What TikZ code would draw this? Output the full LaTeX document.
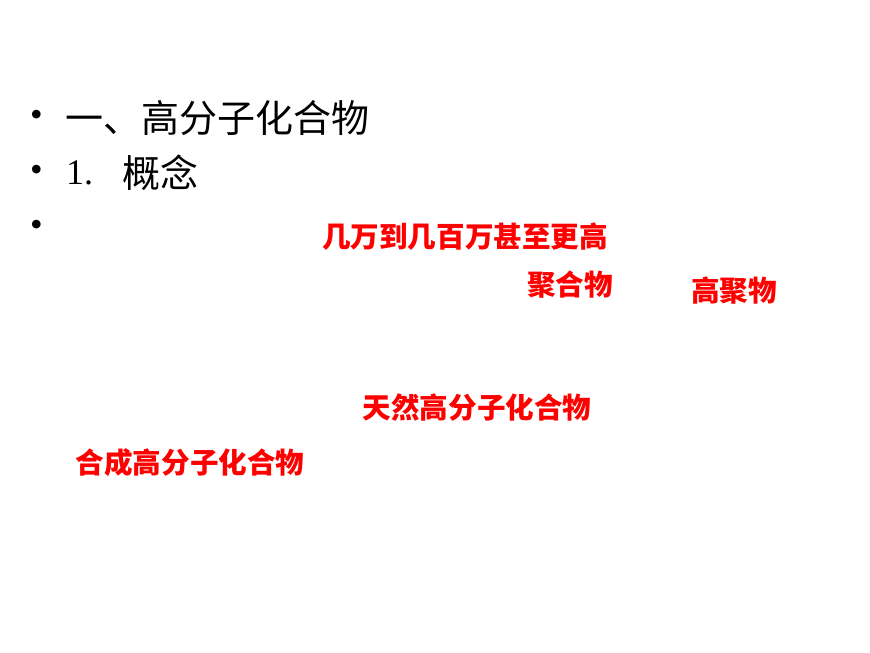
\documentclass[tikz,border=0pt]{standalone}
\usepackage{fontspec}
\setmainfont{Liberation Serif}
\newfontfamily\cjk{Noto Sans CJK SC}
\usetikzlibrary{positioning}
\tikzset{
 bullet/.style
  = {anchor=west, inner sep=0pt, font=\fontsize{36}{36}\selectfont},
 heading/.style
  = {anchor=west, inner sep=0pt, font=\fontsize{38}{38}\selectfont\cjk},
 answer/.style
  = {inner sep=0pt, text=red, font=\fontsize{28.6}{28.6}\selectfont\cjk\bfseries}
}
\begin{document}
\begin{tikzpicture}[x=1pt,y=-1pt]
    \useasboundingbox (0,0) rectangle (870,653);
    \node [bullet] (b1) at (30,118) {•};
    \node [bullet] (b2) at (30,173) {•};
    \node [bullet] (b3) at (30,228) {•};
    \node [heading] (title) at (65,118) {一、高分子化合物};
    \node [bullet, font=\fontsize{36}{36}\selectfont] (num) at (66,173) {1.};
    \node [heading] (concept) at (122,173) {概念};

    \node [answer] (range) at (465,237) {几万到几百万甚至更高};
    \node [answer] (polymer) at (570,285) {聚合物};
    \node [answer] (highpoly) at (734,291) {高聚物};
    \node [answer] (natural) at (477,408) {天然高分子化合物};
    \node [answer] (synthetic) at (190,463) {合成高分子化合物};
\end{tikzpicture}
\end{document}
